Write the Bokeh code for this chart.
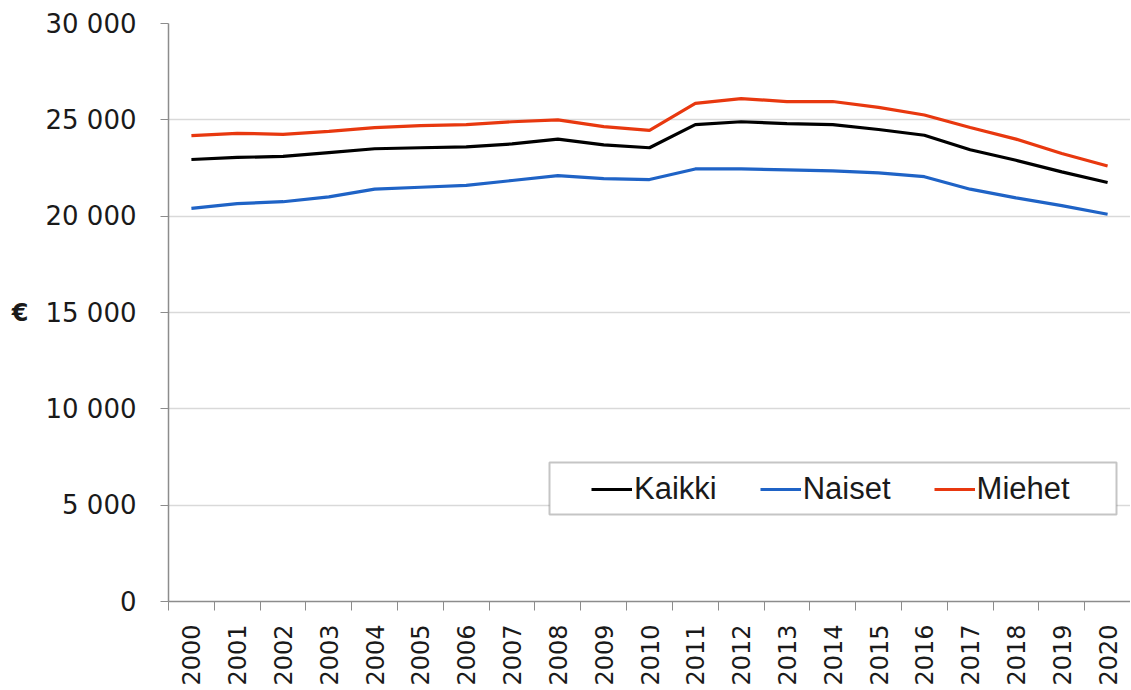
from bokeh.plotting import figure
from bokeh.models import Range1d, FixedTicker, Legend, LegendItem, ColumnDataSource, BoxAnnotation
from bokeh.embed import file_html
from bokeh.resources import INLINE
import math

years = list(range(2000, 2021))
kaikki = [22940, 23050, 23100, 23300, 23500, 23550, 23600, 23750, 24000, 23700, 23550,
          24750, 24900, 24800, 24750, 24500, 24200, 23450, 22900, 22300, 21750]
naiset = [20400, 20650, 20750, 21000, 21400, 21500, 21600, 21850, 22100, 21950, 21900,
          22450, 22450, 22400, 22350, 22250, 22050, 21400, 20950, 20550, 20100]
miehet = [24180, 24300, 24250, 24400, 24600, 24700, 24750, 24900, 25000, 24650, 24450,
          25850, 26100, 25950, 25950, 25650, 25250, 24600, 24000, 23250, 22600]
y_ticks = [0, 5000, 10000, 15000, 20000, 25000, 30000]
y_tick_labels = ["0", "5 000", "10 000", "15 000", "20 000", "25 000", "30 000"]
series_names = ["Kaikki", "Naiset", "Miehet"]
colors = ["#000000", "#1f63c6", "#e8380f"]

p = figure(width=1130, height=688, output_backend="svg", toolbar_location=None,
           x_range=Range1d(years[0] - 0.5, years[-1] + 0.5),
           y_range=Range1d(0, 30000),
           min_border_left=168, min_border_right=0, min_border_top=23, min_border_bottom=87)
p.outline_line_color = None
p.background_fill_color = "white"
p.border_fill_color = "white"

src = ColumnDataSource(dict(x=years, Kaikki=kaikki, Naiset=naiset, Miehet=miehet))
renderers = []
for name, c in zip(series_names, colors):
    r = p.line("x", name, source=src, line_color=c, line_width=3.2)
    renderers.append(r)

# axes
xa = p.xaxis[0]
xa.ticker = FixedTicker(ticks=years, minor_ticks=[y - 0.5 for y in years] + [years[-1] + 0.5])
xa.major_label_overrides = {y: str(y) for y in years}
xa.major_tick_line_color = None
xa.minor_tick_line_color = "#8c8c8c"
xa.minor_tick_in = 0
xa.minor_tick_out = 9
xa.axis_line_color = "#8c8c8c"
xa.axis_line_width = 1.5
xa.major_label_orientation = math.pi / 2
xa.major_label_text_font = "DejaVu Sans"
xa.major_label_text_font_size = "24px"
xa.major_label_text_color = "#1a1a1a"
xa.major_label_standoff = 14

ya = p.yaxis[0]
ya.ticker = FixedTicker(ticks=y_ticks)
ya.major_label_overrides = dict(zip(y_ticks, y_tick_labels))
ya.major_tick_line_color = "#8c8c8c"
ya.major_tick_in = 0
ya.major_tick_out = 8
ya.minor_tick_line_color = None
ya.axis_line_color = "#8c8c8c"
ya.axis_line_width = 1.5
ya.major_label_text_font = "DejaVu Sans"
ya.major_label_text_font_size = "26px"
ya.major_label_text_color = "#1a1a1a"
ya.major_label_standoff = 24
ya.axis_label = "€"
ya.axis_label_orientation = "horizontal"
ya.axis_label_text_font = "DejaVu Sans"
ya.axis_label_text_font_style = "bold"
ya.axis_label_text_font_size = "24px"
ya.axis_label_text_color = "#1a1a1a"
ya.axis_label_standoff = 14

p.xgrid.grid_line_color = None
p.ygrid.grid_line_color = "#d9d9d9"
p.ygrid.grid_line_width = 1.5

# legend frame (wider than the items, as in the original); screen units from frame bottom-left
frame_box = BoxAnnotation(left=381, right=948, top=139, bottom=87,
                          left_units="screen", right_units="screen",
                          top_units="screen", bottom_units="screen",
                          fill_color="white", fill_alpha=1,
                          line_color="#404040", line_width=2, level="annotation")
p.add_layout(frame_box)

legend = Legend(items=[LegendItem(label=n, renderers=[r]) for n, r in zip(series_names, renderers)],
                orientation="horizontal", location=(423, 94))
legend.margin = 0
legend.padding = 8
legend.spacing = 43
legend.glyph_width = 41
legend.glyph_height = 20
legend.label_standoff = 2
legend.label_text_font = "Liberation Sans"
legend.label_text_font_size = "31px"
legend.label_text_color = "#1a1a1a"
legend.border_line_color = None
legend.background_fill_alpha = 0
p.add_layout(legend)

open("out.html", "w").write(file_html(p, INLINE))
